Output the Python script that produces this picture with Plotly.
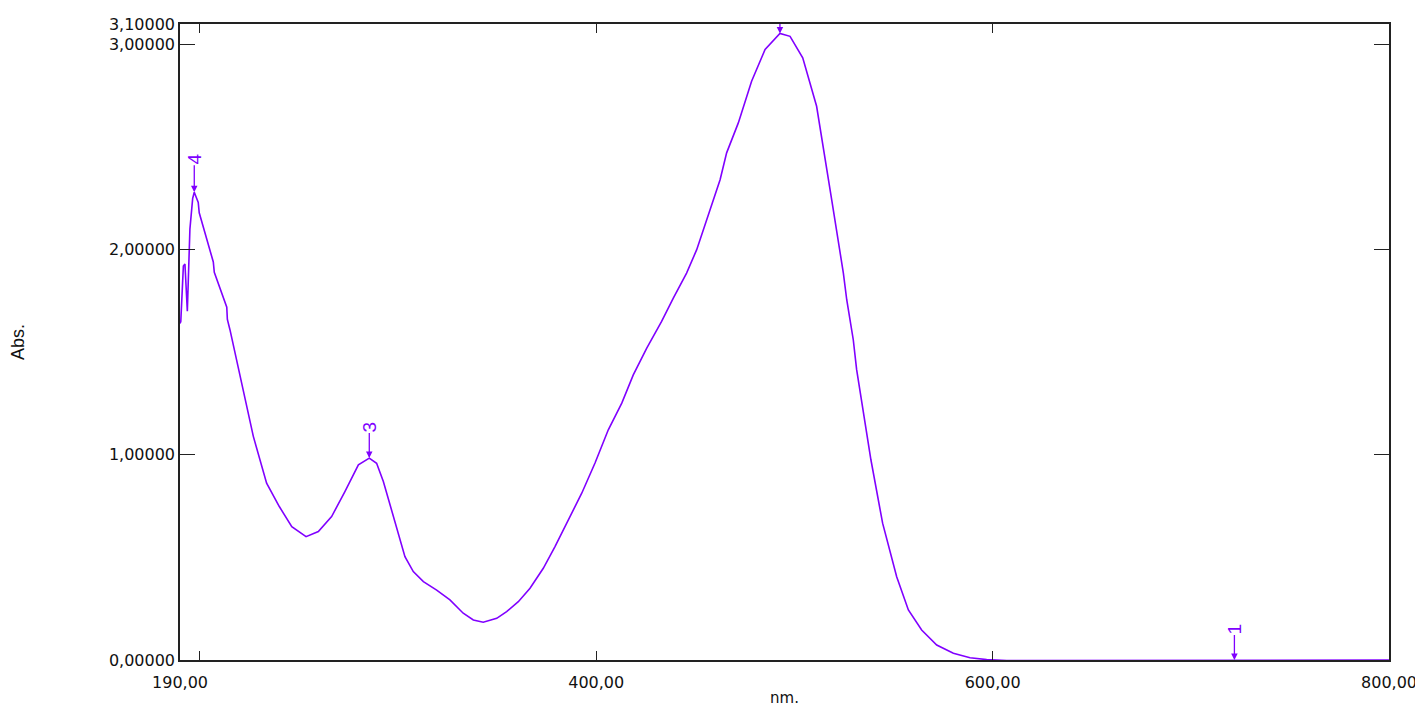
import plotly.graph_objects as go

# Wavelength (nm) and absorbance
wavelength = [190.0, 190.4, 191.7, 192.5, 193.7, 195.0, 196.4, 197.2, 199.2, 199.7,
              206.8, 207.3, 213.6, 213.9, 215.2, 219.4, 227.0, 233.7, 240.1, 246.4,
              253.6, 259.8, 266.5, 273.2, 280.0, 285.5, 289.2, 292.6, 299.6, 303.5,
              307.7, 312.8, 319.5, 326.2, 332.9, 338.0, 343.0, 349.8, 354.8, 360.7,
              366.6, 373.3, 379.2, 385.9, 392.7, 399.4, 406.1, 412.9, 418.7, 425.5,
              433.0, 438.9, 445.6, 450.7, 462.5, 465.8, 471.7, 478.4, 485.2, 492.7,
              497.8, 504.2, 511.2, 518.8, 524.7, 526.4, 529.7, 531.4, 538.6, 544.5,
              551.6, 557.5, 564.2, 571.8, 580.2, 588.6, 597.0, 607.1, 650.0, 722.0,
              800.0]
absorbance = [1.64, 1.65, 1.92, 1.93, 1.70, 2.10, 2.25, 2.28, 2.23, 2.18,
              1.94, 1.89, 1.72, 1.66, 1.61, 1.43, 1.09, 0.862, 0.748, 0.650,
              0.601, 0.626, 0.699, 0.821, 0.951, 0.984, 0.959, 0.870, 0.634, 0.504,
              0.431, 0.382, 0.341, 0.293, 0.228, 0.195, 0.184, 0.203, 0.236, 0.284,
              0.350, 0.447, 0.553, 0.683, 0.813, 0.960, 1.122, 1.252, 1.390, 1.520,
              1.650, 1.764, 1.886, 2.000, 2.341, 2.472, 2.618, 2.821, 2.976, 3.054,
              3.040, 2.935, 2.699, 2.244, 1.886, 1.756, 1.561, 1.415, 0.976, 0.667,
              0.406, 0.244, 0.146, 0.073, 0.033, 0.011, 0.002, -0.003, -0.003, -0.002,
              0.0]

# Peak picks
peak_labels = ["4", "3", "", "1"]
peak_nm = [197.2, 285.5, 492.7, 722.0]
peak_abs = [2.28, 0.984, 3.054, 0.0]
peak_offsets = [-33, -31, -10, -31]

x_tickvals = [190, 200, 400, 600, 800]
x_ticktext = ["190,00", "", "400,00", "600,00", "800,00"]
y_tickvals = [0, 1, 2, 3, 3.1]
y_ticktext = ["0,00000", "1,00000", "2,00000", "3,00000", "3,10000"]

PURPLE = "#8000ff"
TICKFONT = dict(family="DejaVu Sans, Liberation Sans, Arial", size=16, color="#111111")

fig = go.Figure()
fig.add_trace(go.Scatter(x=wavelength, y=absorbance, mode="lines",
                         line=dict(color=PURPLE, width=1.6), showlegend=False,
                         cliponaxis=True))

for lab, xv, yv, off in zip(peak_labels, peak_nm, peak_abs, peak_offsets):
    fig.add_annotation(x=xv, y=yv, text=lab, showarrow=True, ax=0, ay=off,
                       arrowhead=2, arrowsize=1, arrowwidth=1.3, arrowcolor=PURPLE,
                       textangle=-90, borderpad=0,
                       font=dict(color=PURPLE, size=19,
                                 family="Liberation Sans Narrow, Liberation Sans, Arial"))

axis_common = dict(showline=True, linecolor="#222222", linewidth=1.5, mirror="ticks",
                   ticks="inside", tickcolor="#222222", tickwidth=1.2,
                   showgrid=False, zeroline=False, tickfont=TICKFONT, automargin=False)

fig.update_layout(
    width=1423, height=710,
    paper_bgcolor="white", plot_bgcolor="white",
    margin=dict(l=172, r=42, t=16, b=58),
    xaxis=dict(range=[190, 800], tickvals=x_tickvals, ticktext=x_ticktext, ticklen=9,
               ticklabelstandoff=7,
               title=dict(text="nm.", standoff=2,
                          font=dict(family="DejaVu Sans, Liberation Sans, Arial",
                                    size=15, color="#111111")),
               **axis_common),
    yaxis=dict(range=[0, 3.1], tickvals=y_tickvals, ticktext=y_ticktext, ticklen=15,
               title=dict(text="Abs.", standoff=80,
                          font=dict(family="Liberation Sans Narrow, Liberation Sans, Arial",
                                    size=18, color="#111111")),
               **axis_common),
)

fig.write_html("out.html")
